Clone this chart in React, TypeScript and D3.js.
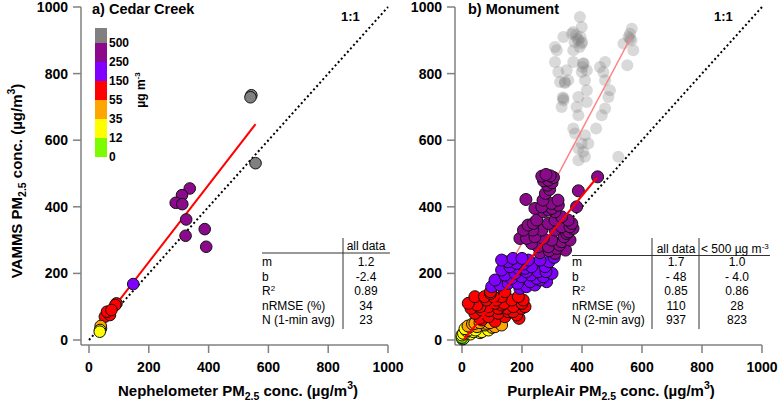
import React from "react";
import * as d3 from "d3";

const TICKS = [0, 200, 400, 600, 800, 1000];
const CB_BREAKS = [0, 12, 35, 55, 150, 250, 500];
const CB_COLORS = ["#7cfc00", "#ffff00", "#ffa500", "#ff0000", "#7f00ff", "#8b0a8b", "#808080"];

// Panel a) Cedar Creek
const cedarX = [543, 540, 557, 337, 311, 290, 312, 325, 323, 387, 392, 148, 92, 88, 65, 53, 70, 60, 75, 40, 39, 37, 36];
const cedarY = [735, 729, 531, 455, 435, 412, 408, 362, 313, 333, 280, 168, 110, 105, 80, 70, 75, 85, 90, 35, 42, 30, 25];
const cedarFitX = [37, 557];
const cedarFitY = [45, 648];

// Panel b) Monument, colored points (< 500)
const monX = [
  266, 280, 294, 305, 272, 288, 300, 285, 292, 278, 213, 388, 452, 382, 299, 288, 310, 271, 332, 310, 354, 249, 238, 288, 332, 360, 266, 310, 349, 193, 215, 243, 271, 299, 332, 254, 288, 316, 232, 366, 266, 243, 321,
  340, 355, 370, 325, 345, 310, 360, 290, 260, 236, 205, 220, 300, 320, 270,
  132, 154, 182, 204, 232, 160, 188, 215, 254, 277, 307, 271, 282, 227, 249, 199, 177, 143, 127, 154, 193, 215, 243, 110, 99, 132, 260, 221,
  170, 200, 290, 300, 260, 280, 185, 165, 230, 210,
  21, 43, 66, 88, 110, 132, 143, 166, 188, 204, 171, 199, 154, 121, 88, 66, 110, 143, 182, 210, 132, 105, 82, 43, 60, 95, 125,
  30, 50, 75, 95, 115, 150, 170, 190, 200, 60, 120, 90, 140,
  43, 77, 110, 60, 93, 132, 27, 20, 35, 50, 80, 100,
  10, 21, 38, 66, 10, 0, 88, 15, 45, 60, 28, 5,
  0, 5, 2
];
const monY = [
  492, 497, 493, 488, 478, 480, 472, 465, 452, 440, 422, 448, 490, 400, 410, 390, 385, 385, 370, 360, 360, 360, 350, 350, 340, 340, 330, 330, 320, 305, 305, 310, 305, 300, 295, 280, 280, 275, 290, 350, 400, 395, 405,
  310, 325, 335, 285, 270, 260, 300, 268, 262, 330, 330, 345, 395, 420, 420,
  240, 235, 230, 228, 220, 220, 215, 205, 205, 220, 248, 190, 175, 175, 185, 190, 200, 195, 165, 170, 155, 160, 165, 180, 160, 210, 240, 240,
  245, 245, 235, 200, 180, 205, 170, 185, 195, 215,
  110, 80, 90, 100, 110, 130, 145, 120, 130, 120, 100, 95, 85, 80, 70, 60, 56, 70, 75, 100, 105, 130, 120, 130, 65, 140, 95,
  95, 105, 130, 145, 120, 95, 85, 65, 110, 100, 95, 88, 110,
  50, 45, 40, 52, 52, 45, 40, 42, 48, 40, 50, 38,
  34, 30, 25, 25, 20, 15, 30, 28, 30, 22, 18, 20,
  8, 5, 3
];
// Panel b) Monument, points above 500
const monGrayX = [
  393, 399, 366, 338, 388, 399, 310, 316, 371, 566, 560, 538, 571, 555, 551, 310, 371, 404, 321, 399, 416, 460, 477, 471, 410, 343, 343, 477, 493, 416, 338, 336, 388, 488, 332, 416, 477, 388, 466, 371, 447, 377, 410, 399, 421, 388, 404, 410, 388, 521, 371, 380, 385, 375, 392, 560, 565, 400, 395, 405, 402, 354, 382, 349, 327, 338
];
const monGrayY = [
  970, 940, 920, 910, 900, 890, 880, 870, 870, 935, 920, 890, 870, 910, 825, 835, 835, 830, 805, 805, 810, 820, 835, 805, 780, 775, 772, 780, 750, 750, 725, 728, 730, 730, 700, 715, 695, 675, 675, 635, 635, 620, 615, 590, 590, 575, 565, 550, 540, 550, 925, 915, 905, 895, 880, 905, 900, 895, 910, 830, 820, 780, 700, 810, 775, 720
];
const monFitAllX = [28, 563];
const monFitAllM = 1.7;
const monFitAllB = -48;
const monFitLowX = [5, 450];
const monFitLowY = [0, 488];

const statLabels = ["m", "b", "R2", "nRMSE (%)"];
const cedarNLabel = "N (1-min avg)";
const monNLabel = "N (2-min avg)";
const cedarStats = ["1.2", "-2.4", "0.89", "34", "23"];
const monStatsAll = ["1.7", "- 48", "0.85", "110", "937"];
const monStatsLow = ["1.0", "- 4.0", "0.86", "28", "823"];

const FONT = "'Liberation Sans', Arial, Helvetica, sans-serif";
const colorOf = d3.scaleThreshold<number, string>().domain(CB_BREAKS.slice(1)).range(CB_COLORS.slice(0, 7));

const yS = d3.scaleLinear().domain([0, 1000]).range([340, 7]);
const xA = d3.scaleLinear().domain([0, 1000]).range([89, 388]);
const xB = d3.scaleLinear().domain([0, 1000]).range([462, 762]);

function Axes({ xs, axisX }: { xs: d3.ScaleLinear<number, number>; axisX: number }) {
  const axisCol = "#808080";
  return (
    <g>
      <line x1={axisX} x2={axisX} y1={yS(1000)} y2={345} stroke={axisCol} strokeWidth={1.5} />
      <line x1={axisX} x2={xs(1000)} y1={345} y2={345} stroke={axisCol} strokeWidth={1.5} />
      {TICKS.map((t) => (
        <g key={"y" + t}>
          <line x1={axisX - 8} x2={axisX} y1={yS(t)} y2={yS(t)} stroke={axisCol} strokeWidth={1.5} />
          <text x={axisX - 13} y={yS(t)} dy="0.36em" textAnchor="end" fontSize={14} fontWeight="bold" fontFamily={FONT}>{t}</text>
        </g>
      ))}
      {TICKS.map((t) => (
        <g key={"x" + t}>
          <line x1={xs(t)} x2={xs(t)} y1={345} y2={353} stroke={axisCol} strokeWidth={1.5} />
          <text x={xs(t)} y={372} textAnchor="middle" fontSize={14} fontWeight="bold" fontFamily={FONT}>{t}</text>
        </g>
      ))}
      <line x1={xs(0)} y1={yS(0)} x2={xs(1000)} y2={yS(1000)} stroke="#000" strokeWidth={2} strokeDasharray="2 2.6" />
      <text x={xs(0) + 252} y={21} fontSize={13} fontWeight="bold" fontFamily={FONT}>1:1</text>
    </g>
  );
}

function Table({ x0, lineY, vLines, headers, headerX, cols, nLabel, right }: any) {
  const rows = [266, 280.5, 295, 309.5, 324];
  return (
    <g fontFamily={FONT} fontSize={12}>
      <line x1={x0} x2={right} y1={lineY} y2={lineY} stroke="#333" strokeWidth={1} />
      {vLines.map((v: number) => (
        <line key={v} x1={v} x2={v} y1={238} y2={329} stroke="#333" strokeWidth={1} />
      ))}
      {headers.map((h: any, i: number) => (
        <text key={i} x={headerX[i]} y={lineY - 3} textAnchor="middle">{h}</text>
      ))}
      {statLabels.map((l, i) => (
        <text key={l} x={x0} y={rows[i]}>
          {l === "R2" ? (<><tspan>R</tspan><tspan fontSize={8} dy={-4}>2</tspan></>) : l}
        </text>
      ))}
      <text x={x0} y={rows[4]}>{nLabel}</text>
      {cols.map((c: string[], ci: number) =>
        c.map((v, i) => (
          <text key={ci + "-" + i} x={headerX[ci]} y={rows[i]} textAnchor="middle">{v}</text>
        ))
      )}
    </g>
  );
}

function AxisTitle({ x, y, name, rotate }: { x: number; y: number; name: string; rotate?: boolean }) {
  return (
    <text transform={`translate(${x},${y})${rotate ? " rotate(-90)" : ""}`} textAnchor="middle" fontSize={15} fontWeight="bold" fontFamily={FONT}>
      <tspan>{name} PM</tspan>
      <tspan fontSize={10.5} dy={4}>2.5</tspan>
      <tspan dy={-4}>{"  conc. (µg/m"}</tspan>
      <tspan fontSize={10.5} dy={-7}>3</tspan>
      <tspan dy={7}>)</tspan>
    </text>
  );
}

export default function App() {
  const cb = d3.scaleLinear().domain([0, 6]).range([157, 43]);
  const cedarPts = cedarX.map((x, i) => ({ x, y: cedarY[i] }));
  const monPts = monX.map((x, i) => ({ x, y: monY[i] })).sort((a, b) => a.y - b.y);
  const monGray = monGrayX.map((x, i) => ({ x, y: monGrayY[i] }));
  return (
    <svg width={780} height={404} style={{ position: "absolute", left: 0, top: 0, background: "#fff" }}>
      {/* Panel a */}
      <Axes xs={xA} axisX={81} />
      <text x={92} y={14} fontSize={14.5} fontWeight="bold" fontFamily={FONT}>a) Cedar Creek</text>
      {CB_COLORS.map((c, i) => (
        <rect key={c} x={95} width={12} y={i < 6 ? cb(i + 1) : 28} height={i < 6 ? cb(i) - cb(i + 1) : cb(6) - 28} fill={c} />
      ))}
      {CB_BREAKS.map((b, i) => (
        <text key={b} x={109} y={cb(i)} dy="0.36em" fontSize={12} fontWeight="bold" fontFamily={FONT}>{b}</text>
      ))}
      <text transform="translate(145,90) rotate(-90)" textAnchor="middle" fontSize={12} fontWeight="bold" fontFamily={FONT}>
        <tspan>µg m</tspan><tspan fontSize={8} dy={-5}>-3</tspan>
      </text>
      <Table x0={262} lineY={253} vLines={[343]} headers={["all data"]} headerX={[366]} cols={[cedarStats]} nLabel={cedarNLabel} right={390} />
      <line x1={xA(cedarFitX[0])} y1={yS(cedarFitY[0])} x2={xA(cedarFitX[1])} y2={yS(cedarFitY[1])} stroke="#ff0000" strokeWidth={2} />
      {cedarPts.map((p, i) => (
        <circle key={i} cx={xA(p.x)} cy={yS(p.y)} r={5.8} fill={colorOf(p.y)} stroke="#111" strokeWidth={1} />
      ))}
      <AxisTitle x={22} y={181} name="VAMMS" rotate />
      <AxisTitle x={238} y={396} name="Nephelometer" />

      {/* Panel b */}
      <Axes xs={xB} axisX={455} />
      <text x={468} y={14} fontSize={14.5} fontWeight="bold" fontFamily={FONT}>b) Monument</text>
      <Table x0={572} lineY={255.5} vLines={[652, 699]} headers={["all data", ""]} headerX={[676, 737]} cols={[monStatsAll, monStatsLow]} nLabel={monNLabel} right={770} />
      <text x={701} y={252.5} fontSize={12} fontFamily={FONT}>
        <tspan>{"< 500 µg m"}</tspan><tspan fontSize={8} dy={-4}>-3</tspan>
      </text>
      {monGray.map((p, i) => (
        <circle key={i} cx={xB(p.x)} cy={yS(p.y)} r={6} fill="#808080" fillOpacity={0.3} />
      ))}
      <line x1={xB(monFitAllX[0])} y1={yS(monFitAllM * monFitAllX[0] + monFitAllB)} x2={xB(monFitAllX[1])} y2={yS(monFitAllM * monFitAllX[1] + monFitAllB)} stroke="#ff8080" strokeWidth={1.5} />
      {monPts.map((p, i) => (
        <circle key={i} cx={xB(p.x)} cy={yS(p.y)} r={6} fill={colorOf(p.y)} stroke="#111" strokeWidth={1} />
      ))}
      <line x1={xB(monFitLowX[0])} y1={yS(monFitLowY[0])} x2={xB(monFitLowX[1])} y2={yS(monFitLowY[1])} stroke="#ff0000" strokeWidth={2} />
      <AxisTitle x={611} y={396} name="PurpleAir" />
    </svg>
  );
}
